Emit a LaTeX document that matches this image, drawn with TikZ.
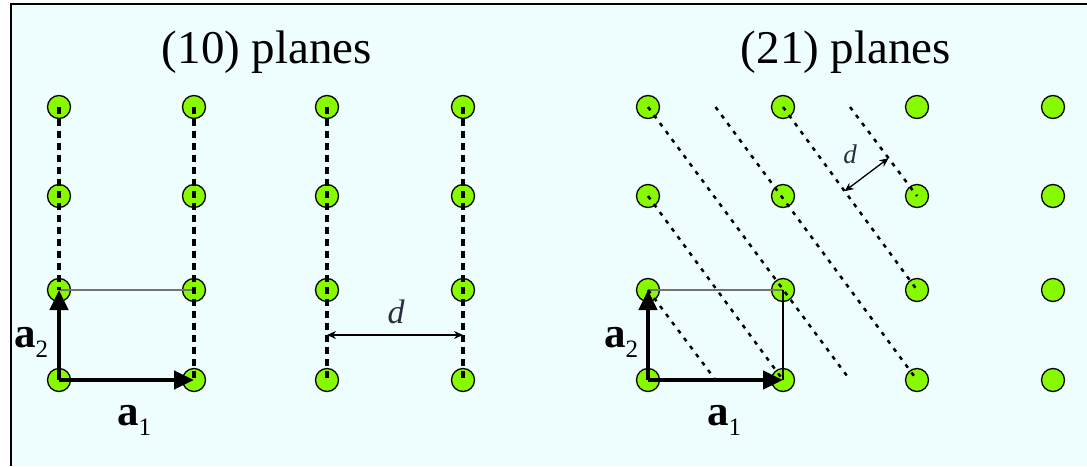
\documentclass[tikz,border=0pt]{standalone}
\usepackage{fontspec}
\setmainfont{Liberation Serif}
\usetikzlibrary{arrows.meta,calc}
\definecolor{bgc}{RGB}{238,254,255}
\definecolor{atomc}{RGB}{136,250,0}
\definecolor{dcol}{RGB}{45,45,65}
\tikzset{
  atom/.style={circle,draw=black,line width=1.3pt,fill=atomc,minimum size=23pt,inner sep=0pt},
  bigdash/.style={line width=3.6pt,dash pattern=on 7pt off 5pt},
  dotline/.style={line width=2.5pt,dash pattern=on 4pt off 6pt},
  vecarrow/.style={line width=4.5pt,-{Triangle[length=20pt,width=18pt]}},
  darrow/.style={line width=1.3pt,{Stealth[length=9pt,width=8pt]}-{Stealth[length=9pt,width=8pt]}},
  titlefont/.style={font=\fontsize{47}{50}\selectfont,inner sep=0pt},
  veclabel/.style={inner sep=0pt,anchor=base west,font=\fontsize{43}{45}\selectfont}
}
\newcommand{\veclab}[1]{\textbf{a}\raisebox{-10pt}{\fontsize{25}{25}\selectfont #1}}
\begin{document}
\begin{tikzpicture}[x={(1pt,0)},y={(0,-1pt)}]
\useasboundingbox (0,0) rectangle (1087,466);
\fill[white] (0,0) rectangle (1087,466);
\fill[bgc] (11,4) rectangle (1087,466);
\draw[line width=1.2pt] (1087,4) -- (11,4) -- (11,466);
% lattice nodes
\foreach \i/\xl/\xr in {0/59/648,1/194/783,2/327/917,3/463/1053}{
  \foreach \j/\yy in {0/380,1/290,2/196,3/107}{
    \node[atom] (L\i\j) at (\xl,\yy) {};
    \node[atom] (R\i\j) at (\xr,\yy) {};
  }
}
% titles
\node[titlefont,anchor=base] (t10) at (267,63) {(10) planes};
\node[titlefont,anchor=base] (t21) at (846,63) {(21) planes};
% (10) planes
\draw[line width=1.4pt,black!55] (L01.center) -- (L11.center);
\draw[bigdash] (L03.center) -- (L01.center);
\foreach \i in {1,2,3}{\draw[bigdash] (L\i3.center) -- (L\i0.center);}
\draw[vecarrow] (L00.center) -- (L10.center);
\draw[vecarrow] (L00.center) -- (L01.center);
\coordinate (dl1) at ($(L20.center)!0.5!(L21.center)$);
\coordinate (dl2) at ($(L30.center)!0.5!(L31.center)$);
\draw[darrow] (dl1) -- (dl2);
\node[inner sep=0pt,anchor=base,text=dcol,font=\fontsize{34}{36}\selectfont\itshape] (dL) at (396,323) {d};
\node[veclabel] (a1L) at (117,425) {\veclab{1}};
\node[veclabel] (a2L) at (14,347) {\veclab{2}};
% (21) planes
\draw[line width=1.4pt,black!55] (R01.center) -- (R11.center);
\draw[line width=1.4pt] (R11.center) -- (R10.center);
\coordinate (h00) at ($(R00.center)!0.5!(R10.center)$);
\coordinate (h10) at ($(R10.center)!0.5!(R20.center)$);
\coordinate (h03) at ($(R03.center)!0.5!(R13.center)$);
\coordinate (h13) at ($(R13.center)!0.5!(R23.center)$);
\draw[dotline] (R01.center) -- (h00);
\draw[dotline] (R02.center) -- (R10.center);
\draw[dotline] (R03.center) -- (h10);
\draw[dotline] (h03) -- (R20.center);
\draw[dotline] (R13.center) -- (R21.center);
\draw[dotline] (h13) -- (R22.center);
\draw[vecarrow] (R00.center) -- (R10.center);
\draw[vecarrow] (R00.center) -- (R01.center);
\coordinate (dr1) at ($(R13.center)!0.46!(R21.center)$);
\coordinate (dr2) at ($(h13)!(dr1)!(R22.center)$);
\draw[darrow] (dr1) -- (dr2);
\node[inner sep=0pt,anchor=base,text=dcol,font=\fontsize{27}{29}\selectfont\itshape] (dR) at (850,163) {d};
\node[veclabel] (a1R) at (707,425) {\veclab{1}};
\node[veclabel] (a2R) at (604,347) {\veclab{2}};
\end{tikzpicture}
\end{document}
